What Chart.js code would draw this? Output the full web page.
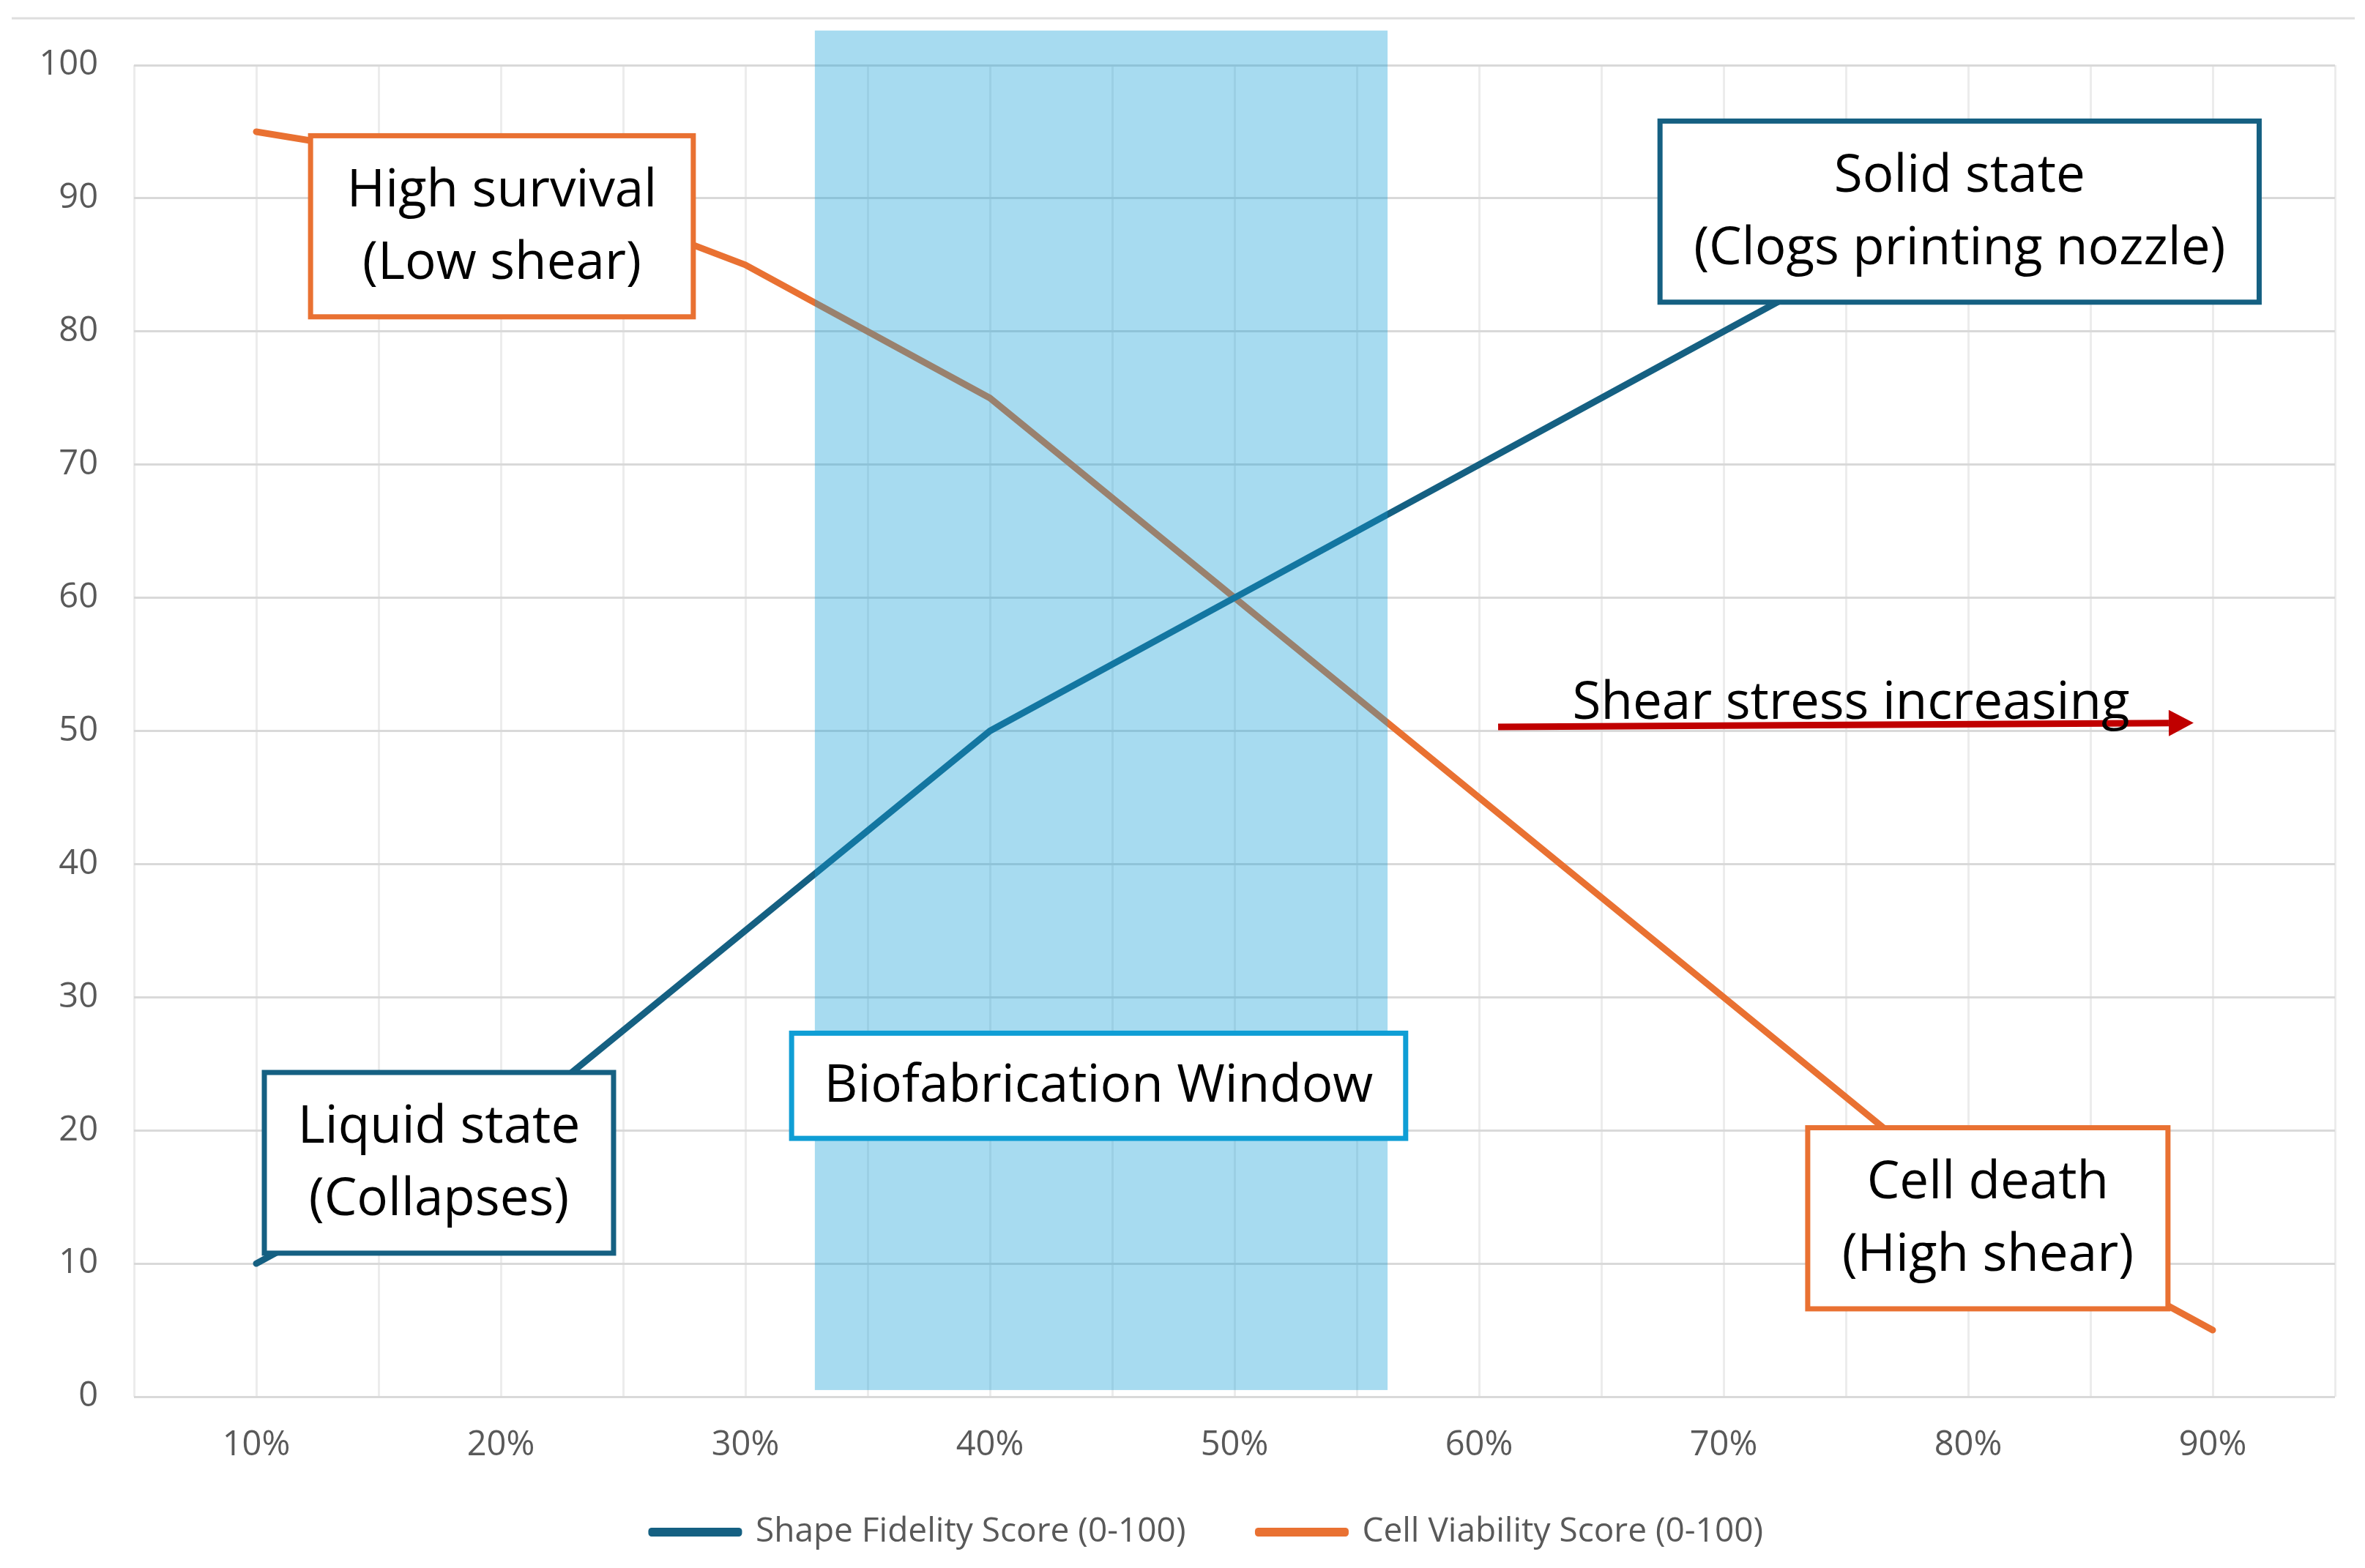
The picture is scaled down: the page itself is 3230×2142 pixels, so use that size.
<!DOCTYPE html>
<html>
<head>
<meta charset="utf-8">
<script src="https://cdn.jsdelivr.net/npm/chart.js@4.4.1/dist/chart.umd.min.js"></script>
<style>
  html, body { margin: 0; padding: 0; background: #fff; }
  #wrap { width: 3230px; height: 2142px; }
</style>
</head>
<body>
<div id="wrap"><canvas id="chart" width="3230" height="2142"></canvas></div>
<script>
// ===== Data =====
const categories = ["10%", "20%", "30%", "40%", "50%", "60%", "70%", "80%", "90%"];
const shapeFidelity = [10, 20, 35, 50, 60, 70, 80, 90, 95];
const cellViability = [95, 92, 85, 75, 60, 45, 30, 15, 5];
const seriesNames = ["Shape Fidelity Score (0-100)", "Cell Viability Score (0-100)"];

const BLUE = "#156082";
const ORANGE = "#E97132";
const SKY = "#0F9ED5";
const FONT = "'Open Sans', 'DejaVu Sans', sans-serif";

// ===== Callouts (category index / value units) =====
const callouts = [
  { lines: ["High survival", "(Low shear)"], color: ORANGE, x: [0.222, 1.787], y: [94.7, 81.1] },
  { lines: ["Solid state", "(Clogs printing nozzle)"], color: BLUE, x: [5.74, 8.19], y: [95.8, 82.2] },
  { lines: ["Liquid state", "(Collapses)"], color: BLUE, x: [0.033, 1.461], y: [24.35, 10.78] },
  { lines: ["Biofabrication Window"], color: SKY, x: [2.189, 4.70], y: [27.3, 19.4] },
  { lines: ["Cell death", "(High shear)"], color: ORANGE, x: [6.344, 7.817], y: [20.2, 6.6] }
];
const windowBand = { x: [2.284, 4.626], y: [0.5, 102.6] };
const shearArrow = { from: [5.078, 50.3], to: [7.922, 50.6], label: "Shear stress increasing", labelAt: [6.521, 50.9] };

// ===== Overlay plugin =====
const overlay = {
  id: "overlay",
  afterLayout(chart) {
    // nudge the legend to where the original sits
    const lg = chart.legend;
    if (!lg) return;
    lg.top -= 26; lg.bottom -= 26;
    lg.left += 27; lg.right += 27;
  },
  beforeDraw(chart) {
    const { ctx } = chart;
    ctx.save();
    ctx.fillStyle = "#ffffff";
    ctx.fillRect(0, 0, chart.width, chart.height);
    ctx.strokeStyle = "#dedede";
    ctx.lineWidth = 3;
    ctx.beginPath();
    ctx.moveTo(16, 25);
    ctx.lineTo(chart.width - 14, 25);
    ctx.stroke();
    ctx.restore();
  },
  afterDatasetsDraw(chart) {
    const { ctx } = chart;
    const xs = chart.scales.x, ys = chart.scales.y;
    const px = (v) => xs.getPixelForValue(v);
    const py = (v) => ys.getPixelForValue(v);
    ctx.save();

    // shaded window
    ctx.fillStyle = "rgba(15,158,213,0.37)";
    const wx0 = px(windowBand.x[0]), wx1 = px(windowBand.x[1]);
    const wy0 = py(windowBand.y[1]), wy1 = py(windowBand.y[0]);
    ctx.fillRect(wx0, wy0, wx1 - wx0, wy1 - wy0);

    // arrow
    const ax0 = px(shearArrow.from[0]), ay0 = py(shearArrow.from[1]);
    const ax1 = px(shearArrow.to[0]), ay1 = py(shearArrow.to[1]);
    const ang = Math.atan2(ay1 - ay0, ax1 - ax0);
    const head = 34;
    ctx.strokeStyle = "#C00000";
    ctx.fillStyle = "#C00000";
    ctx.lineWidth = 9;
    ctx.beginPath();
    ctx.moveTo(ax0, ay0);
    ctx.lineTo(ax1 - head * Math.cos(ang), ay1 - head * Math.sin(ang));
    ctx.stroke();
    ctx.beginPath();
    ctx.moveTo(ax1, ay1);
    ctx.lineTo(ax1 - head * Math.cos(ang) + 18 * Math.sin(ang), ay1 - head * Math.sin(ang) - 18 * Math.cos(ang));
    ctx.lineTo(ax1 - head * Math.cos(ang) - 18 * Math.sin(ang), ay1 - head * Math.sin(ang) + 18 * Math.cos(ang));
    ctx.closePath();
    ctx.fill();

    ctx.fillStyle = "#000000";
    ctx.font = "71px " + FONT;
    ctx.textAlign = "center";
    ctx.textBaseline = "alphabetic";
    ctx.fillText(shearArrow.label, px(shearArrow.labelAt[0]), py(shearArrow.labelAt[1]));

    // callout boxes
    ctx.font = "71px " + FONT;
    ctx.textBaseline = "middle";
    callouts.forEach((c) => {
      const x0 = px(c.x[0]), x1 = px(c.x[1]);
      const y0 = py(c.y[0]), y1 = py(c.y[1]);
      ctx.fillStyle = "#ffffff";
      ctx.fillRect(x0, y0, x1 - x0, y1 - y0);
      ctx.strokeStyle = c.color;
      ctx.lineWidth = 7;
      ctx.strokeRect(x0, y0, x1 - x0, y1 - y0);
      ctx.fillStyle = "#000000";
      const cx = (x0 + x1) / 2, cy = (y0 + y1) / 2 + 2;
      const lh = 99;
      const start = cy - (lh * (c.lines.length - 1)) / 2;
      c.lines.forEach((t, i) => ctx.fillText(t, cx, start + i * lh));
    });
    ctx.restore();
  }
};

// ===== Chart =====
new Chart(document.getElementById("chart"), {
  type: "line",
  data: {
    labels: categories,
    datasets: [
      {
        label: seriesNames[0],
        data: shapeFidelity,
        borderColor: BLUE,
        backgroundColor: BLUE,
        borderWidth: 9,
        pointRadius: 0,
        tension: 0,
        borderJoinStyle: "round",
        borderCapStyle: "round"
      },
      {
        label: seriesNames[1],
        data: cellViability,
        borderColor: ORANGE,
        backgroundColor: ORANGE,
        borderWidth: 9,
        pointRadius: 0,
        tension: 0,
        borderJoinStyle: "round",
        borderCapStyle: "round"
      }
    ]
  },
  options: {
    responsive: false,
    devicePixelRatio: 1,
    animation: false,
    layout: { padding: { left: 55, right: 41, top: 89, bottom: -10 } },
    plugins: {
      tooltip: { enabled: false },
      legend: {
        position: "bottom",
        labels: {
          boxWidth: 119,
          boxHeight: 3,
          padding: 99,
          color: "#595959",
          font: { family: FONT, size: 46 }
        }
      }
    },
    scales: {
      x: {
        type: "category",
        offset: true,
        grid: { offset: true, color: "#ececec", lineWidth: 3, drawTicks: false },
        border: { display: false },
        ticks: { color: "#595959", font: { family: FONT, size: 47 }, padding: 38, maxRotation: 0, autoSkip: false },
        afterFit: (s) => { s.height = 89; }
      },
      x2: {
        type: "category",
        labels: categories,
        position: "bottom",
        offset: true,
        grid: { offset: false, color: "#ececec", lineWidth: 3, drawTicks: false },
        border: { display: false },
        ticks: { display: false },
        afterFit: (s) => { s.height = 0; }
      },
      y: {
        min: 0,
        max: 100,
        grid: { color: "#d9d9d9", lineWidth: 3, drawTicks: false },
        border: { display: false },
        ticks: { stepSize: 10, color: "#595959", font: { family: FONT, size: 47 }, padding: 49 },
        afterFit: (s) => { s.width = 128; }
      }
    }
  },
  plugins: [overlay]
});
</script>
</body>
</html>
